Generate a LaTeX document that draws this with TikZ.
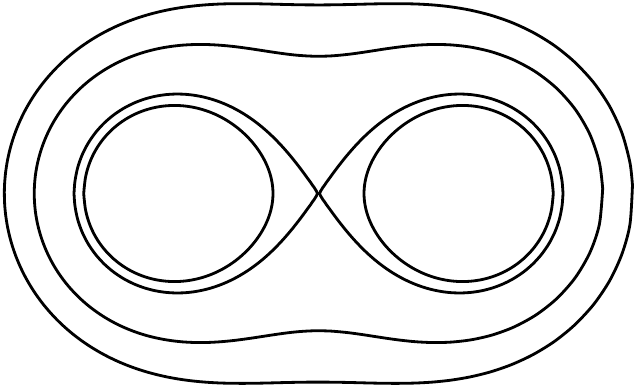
\documentclass[tikz,border=0pt]{standalone}
\usepackage{tikz}

\begin{document}
\begin{tikzpicture}[
  declare function={
    rone(\t,\a,\b)=\a+(\b-\a)*(1-cos(\t))/2;
    px(\t,\v,\a,\b)=((1/(\v-1/rone(\t,\a,\b)))^2-rone(\t,\a,\b)^2)/4;
    py(\t,\v,\a,\b)=ifthenelse(sin(\t)<0,-1,1)*sqrt(max(0,rone(\t,\a,\b)^2-(px(\t,\v,\a,\b)-1)*(px(\t,\v,\a,\b)-1)));
  },
  level/.style={line width=1.6pt,line join=round,black}]
\useasboundingbox (0,0) rectangle (12.68,7.78);
\begin{scope}[shift={(6.37,3.91)},scale=3.02]
% outer oval
\draw[level] plot[smooth,domain=0:360,samples=121,variable=\t] ({px(\t,1.25,1.0806,3.0806)},{py(\t,1.25,1.0806,3.0806)});
% peanut
\draw[level] plot[smooth,domain=0:360,samples=121,variable=\t] ({px(\t,1.48,0.8826,2.8826)},{py(\t,1.48,0.8826,2.8826)});
% figure eight, right and left lobe
\draw[level] plot[smooth,domain=0:360,samples=121,variable=\t] ({px(\t,2,0.618034,1)},{py(\t,2,0.618034,1)});
\draw[level] plot[smooth,domain=0:360,samples=121,variable=\t] ({-px(\t,2,0.618034,1)},{py(\t,2,0.618034,1)});
% inner ovals
\draw[level] plot[smooth,domain=0:360,samples=121,variable=\t] ({px(\t,2.2,0.553,0.6985)},{py(\t,2.2,0.553,0.6985)});
\draw[level] plot[smooth,domain=0:360,samples=121,variable=\t] ({-px(\t,2.2,0.553,0.6985)},{py(\t,2.2,0.553,0.6985)});
\end{scope}
\end{tikzpicture}
\end{document}
